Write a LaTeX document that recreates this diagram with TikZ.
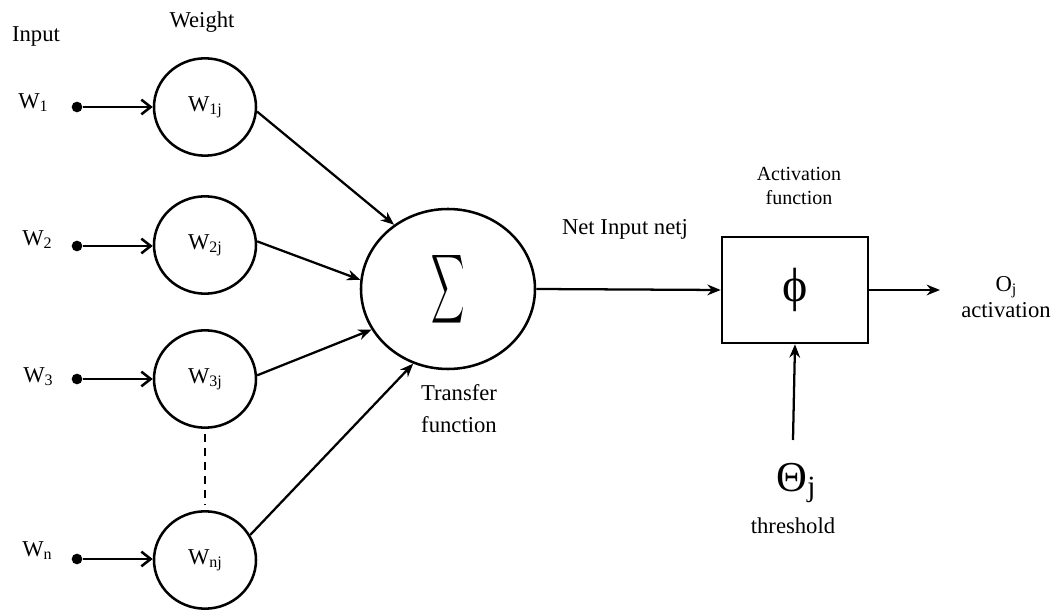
\documentclass[tikz,border=0pt]{standalone}
\usepackage{fontspec}
\setmainfont{Liberation Serif}
\usetikzlibrary{arrows.meta,shapes.geometric}
\newcommand{\sbs}[1]{\raisebox{-0.3ex}{\fontsize{12}{14}\selectfont #1}}
\tikzset{
  wnode/.style={draw, ellipse, line width=1.9pt, inner sep=0pt, minimum width=76.5pt, minimum height=73pt, font=\fontsize{17}{20}\selectfont},
  dotnode/.style={circle, fill=black, inner sep=0pt, minimum size=8pt},
  inarr/.style={line width=1.9pt, -{Straight Barb[length=7pt,width=11pt,line width=1.9pt]}},
  conn/.style={line width=1.7pt, -{Stealth[length=10pt,width=8pt]}},
  lbl/.style={font=\fontsize{17}{20}\selectfont, inner sep=0pt},
}
\begin{document}
\begin{tikzpicture}[x=0.75pt,y=-0.75pt]
\useasboundingbox (0,0) rectangle (1058,616);
% weight nodes
\node[wnode] (c1) at (205,107) {W\sbs{1j}};
\node[wnode] (c2) at (205,245) {W\sbs{2j}};
\node[wnode] (c3) at (205,379) {W\sbs{3j}};
\node[wnode] (cn) at (205,560) {W\sbs{nj}};
% input dots
\node[dotnode] (d1) at (77,107) {};
\node[dotnode] (d2) at (77,246) {};
\node[dotnode] (d3) at (77,379) {};
\node[dotnode] (dn) at (77,559) {};
\draw[inarr] (d1) -- (c1.west |- d1);
\draw[inarr] (d2) -- (c2.west |- d2);
\draw[inarr] (d3) -- (c3.west |- d3);
\draw[inarr] (dn) -- (cn.west |- dn);
% labels
\node[lbl] (tinput) at (36,36) {Input};
\node[lbl] (tweight) at (202,22) {Weight};
\node[lbl] (l1) at (33,103) {W\sbs{1}};
\node[lbl] (l2) at (37,240) {W\sbs{2}};
\node[lbl] (l3) at (38,377) {W\sbs{3}};
\node[lbl] (ln) at (37,551) {W\sbs{n}};
% dashed
\draw[line width=1.8pt, dash pattern=on 6pt off 4.5pt, shorten <=4pt, shorten >=4pt] (c3.south) -- (cn.north);
% sigma
\node[draw, ellipse, line width=1.9pt, inner sep=0pt, minimum width=130.5pt, minimum height=120pt] (s) at (448,289) {\resizebox{25pt}{38pt}{$\displaystyle\sum$}};
\draw[conn] (c1.-5) -- (s.130);
\draw[conn] (c2.4) -- (s.174);
\draw[conn] (c3.4) -- (s.208);
\draw[conn] (cn.29) -- (s.245);
\node[lbl, align=center, font=\fontsize{17}{24}\selectfont] (ttr) at (459,409) {Transfer\\function};
% net input
\node[draw, line width=1.9pt, minimum width=109.5pt, minimum height=79.5pt, inner sep=0pt] (box) at (795,290) {\fontsize{36}{40}\selectfont ϕ};
\draw[conn] (s.east) -- (box.west);
\node[lbl] (tnet) at (625,229) {Net Input netj};
\node[lbl, align=center, font=\fontsize{15}{18}\selectfont] (tact) at (799,186) {Activation\\function};
% output
\coordinate (out) at (940,290);
\draw[conn] (box.east) -- (out);
\node[lbl, align=center, font=\fontsize{17}{19}\selectfont] (tout) at (1006,297) {O\sbs{j}\\activation};
% threshold
\node[lbl] (theta) at (796,483) {\fontsize{32}{36}\selectfont Θ\raisebox{-0.3ex}{\fontsize{22}{24}\selectfont j}};
\coordinate (tb) at (793,440);
\draw[conn] (tb) -- (box.south);
\node[lbl] (tthr) at (793,526) {threshold};
\end{tikzpicture}
\end{document}
